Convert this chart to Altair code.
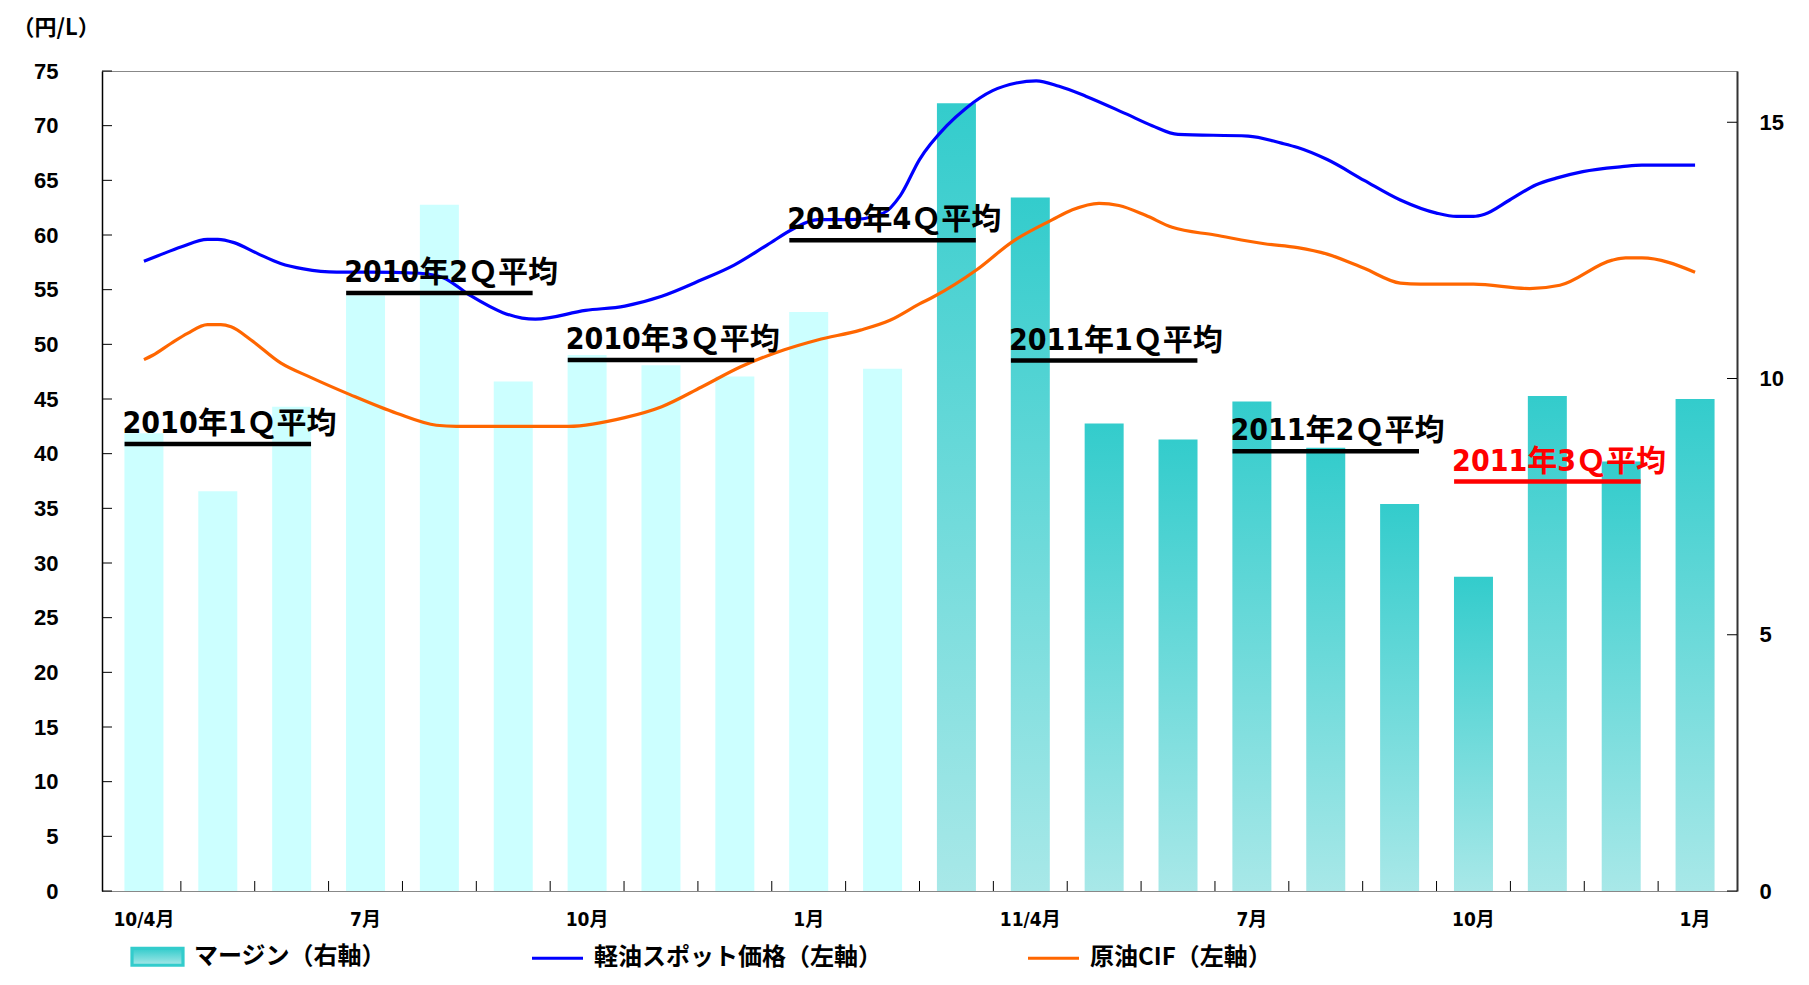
import altair as alt
import pandas as pd

# ---------------- data ----------------
months = ["2010/4", "2010/5", "2010/6", "2010/7", "2010/8", "2010/9", "2010/10", "2010/11",
          "2010/12", "2011/1", "2011/2", "2011/3", "2011/4", "2011/5", "2011/6", "2011/7",
          "2011/8", "2011/9", "2011/10", "2011/11", "2011/12", "2012/1"]
margin = [8.93, 7.8, 9.45, 11.62, 13.39, 9.94, 10.46, 10.26, 10.04, 11.3, 10.19,
          15.37, 13.53, 9.12, 8.81, 9.55, 8.65, 7.55, 6.13, 9.66, 8.38, 9.6]

label_pos = [0, 3, 6, 9, 12, 15, 18, 21]
label_text = ["10/4月", "7月", "10月", "1月", "11/4月", "7月", "10月", "1月"]

# line series: position in months since 2010/4, value (円/L)
blue_t = [0.0, 0.19, 0.5, 0.86, 1.0, 1.22, 1.54, 1.85, 2.16, 2.61, 3.06, 3.73, 4.05, 4.41,
          4.86, 5.12, 5.3, 5.98, 6.51, 7.01, 7.55, 7.99, 8.44, 8.8, 9.12, 9.56, 10.01, 10.24,
          10.5, 10.87, 11.13, 11.49, 11.81, 12.08, 12.39, 12.75, 13.29, 13.65, 14.0, 14.95,
          15.4, 15.62, 16.02, 16.52, 17.01, 17.5, 17.77, 18.0, 18.15, 18.49, 18.85, 19.12,
          19.48, 20.01, 20.28, 21.0]
blue_v = [57.6, 58.1, 58.9, 59.6, 59.6, 59.3, 58.3, 57.4, 56.9, 56.6, 56.6, 56.5, 56.1, 54.5,
          52.9, 52.4, 52.3, 53.1, 53.5, 54.4, 55.9, 57.25, 59.1, 60.6, 61.4, 61.4, 62.0, 63.6,
          66.9, 70.0, 71.6, 73.2, 73.9, 74.1, 73.6, 72.7, 71.1, 70.0, 69.2, 69.05,
          68.4, 68.0, 66.9, 65.0, 63.2, 62.0, 61.7, 61.7, 61.9, 63.2, 64.6, 65.2,
          65.8, 66.25, 66.4, 66.4]
orange_t = [0.0, 0.12, 0.37, 0.59, 0.86, 1.04, 1.18, 1.45, 1.85, 2.25, 2.79, 3.42, 3.96, 4.23,
            5.75, 6.51, 7.01, 7.55, 8.08, 8.67, 9.12, 9.7, 10.1, 10.5, 10.69, 11.27, 11.76,
            12.3, 12.57, 12.93, 13.2, 13.56, 13.92, 14.5, 15.17, 15.62, 16.02, 16.52, 17.01,
            17.28, 18.0, 18.76, 19.17, 19.88, 20.06, 20.28, 21.0]
orange_v = [48.6, 49.0, 50.1, 51.0, 51.8, 51.8, 51.6, 50.4, 48.3, 47.0, 45.4, 43.7, 42.6, 42.5,
            42.5, 43.3, 44.3, 46.1, 47.95, 49.5, 50.4, 51.3, 52.2, 53.7, 54.35, 56.8, 59.4,
            61.4, 62.3, 62.9, 62.7, 61.8, 60.7, 60.0, 59.2, 58.85, 58.25, 56.95, 55.6,
            55.5, 55.5, 55.1, 55.4, 57.7, 57.9, 57.9, 56.6]

q_labels = ["2010年1Ｑ平均", "2010年2Ｑ平均", "2010年3Ｑ平均", "2010年4Ｑ平均",
            "2011年1Ｑ平均", "2011年2Ｑ平均", "2011年3Ｑ平均"]
q_start = [0, 3, 6, 9, 12, 15, 18]
q_end = [2, 5, 8, 11, 14, 17, 20]
q_level = [8.72, 11.67, 10.36, 12.70, 10.35, 8.58, 7.99]
q_color = ["black", "black", "black", "black", "black", "black", "red"]

left_ticks = [0, 5, 10, 15, 20, 25, 30, 35, 40, 45, 50, 55, 60, 65, 70, 75]
right_ticks = [0, 5, 10, 15]

M = "マージン（右軸）"
B = "軽油スポット価格（左軸）"
O = "原油CIF（左軸）"

# ---------------- layout ----------------
W, H = 1635, 820
BAR = 39
N = len(months)
STEP = W / N
HALF = BAR / 2 / STEP

NARROW = "'Liberation Sans Narrow', 'DejaVu Sans Condensed', 'Noto Sans CJK JP', sans-serif"
SANS = "'Liberation Sans', Arial, sans-serif"
CJK = "'Noto Sans CJK JP', sans-serif"

bars = pd.DataFrame({"month": months, "idx": list(range(N)), "margin": margin})
lines = pd.concat([
    pd.DataFrame({"series": B, "t": blue_t, "v": blue_v}),
    pd.DataFrame({"series": O, "t": orange_t, "v": orange_v}),
])
quarters = pd.DataFrame({"label": q_labels, "x0": [s - HALF for s in q_start],
                         "x1": [e + HALF for e in q_end], "level": q_level, "col": q_color})
xlabels = pd.DataFrame({"p": label_pos, "text": label_text})
lt = pd.DataFrame({"v": left_ticks})
rt = pd.DataFrame({"v": right_ticks})
bt = pd.DataFrame({"b": [i + 0.5 for i in range(N - 1)]})

xscale = alt.Scale(domain=[-0.5, N - 0.5], nice=False, zero=False)
rscale = alt.Scale(domain=[0, 16], nice=False)
lscale = alt.Scale(domain=[0, 75], nice=False)

xaxis = alt.Axis(values=label_pos, labels=False, ticks=False, tickSize=0, grid=False,
                 domainColor="#333333", domainWidth=1.5, title=None)

grad = alt.Gradient(gradient="linear", x1=0, y1=0, x2=0, y2=1,
                    stops=[alt.GradientStop(color="#33CCCC", offset=0),
                           alt.GradientStop(color="#A8E8E8", offset=1)])

bars_light = alt.Chart(bars).transform_filter("datum.idx <= 10").mark_bar(
    size=BAR, color="#CCFFFF").encode(
    x=alt.X("idx:Q", scale=xscale, axis=xaxis),
    y=alt.Y("margin:Q", scale=rscale,
            axis=alt.Axis(orient="right", values=right_ticks, ticks=False, tickSize=0,
                          grid=False, domainColor="#333333", domainWidth=2,
                          labelFont=SANS, labelFontSize=22, labelFontWeight="bold",
                          labelColor="black", labelPadding=22, title=None)),
)

bars_grad = alt.Chart(bars).transform_filter("datum.idx >= 11").mark_bar(
    size=BAR, fill=grad).encode(
    x=alt.X("idx:Q", scale=xscale, axis=None),
    y=alt.Y("margin:Q", scale=rscale, axis=None),
)

sym_shape = f"datum.value === '{M}' ? 'M-1,-0.33H1V0.33H-1Z' : 'stroke'"
sym_fill = (f"datum.value === '{M}' ? {{gradient: 'linear', x1: 0, y1: 0, x2: 0, y2: 1, "
            f"stops: [{{offset: 0, color: '#33CCCC'}}, {{offset: 1, color: '#A8E8E8'}}]}} "
            f": 'transparent'")
sym_stroke = f"datum.value === '{M}' ? 'transparent' : (datum.value === '{B}' ? '#0000FF' : '#FF6600')"

legend = alt.Legend(orient="none", legendX=28, legendY=858, direction="horizontal", title=None,
                    labelFont=CJK, labelFontSize=24, labelFontWeight="bold", labelColor="black",
                    symbolType={"expr": sym_shape}, symbolSize=2601, symbolStrokeWidth=3.2,
                    symbolFillColor={"expr": sym_fill},
                    symbolStrokeColor={"expr": sym_stroke}, symbolOpacity=1,
                    labelOffset=9, columnPadding=139, padding=0, labelLimit=600)

line_layer = alt.Chart(lines).mark_line(interpolate="monotone", strokeWidth=3.2).encode(
    x=alt.X("t:Q", scale=xscale, axis=None),
    y=alt.Y("v:Q", scale=lscale,
            axis=alt.Axis(orient="left", values=left_ticks, ticks=False, tickSize=0, grid=False,
                          domainColor="black", domainWidth=1.5, labelFont=SANS,
                          labelFontSize=22, labelFontWeight="bold", labelColor="black",
                          labelPadding=44, title="（円/L）", titleAngle=0, titleAlign="left",
                          titleBaseline="middle", titleX=-90, titleY=-44, titleFont=CJK,
                          titleFontSize=22, titleFontWeight="bold", titleColor="black",
                          titleLimit=300)),
    color=alt.Color("series:N", scale=alt.Scale(domain=[M, B, O],
                                                range=["#33CCCC", "#0000FF", "#FF6600"]),
                    legend=legend),
)

underline = alt.Chart(quarters).mark_rule(strokeWidth=4.5).encode(
    x=alt.X("x0:Q", scale=xscale, axis=None),
    x2="x1:Q",
    y=alt.Y("level:Q", scale=rscale, axis=None),
    stroke=alt.Stroke("col:N", scale=None),
)

qtext = alt.Chart(quarters).mark_text(align="left", baseline="alphabetic", dx=-2, dy=-11,
                                      font=NARROW, fontSize=30, fontWeight="bold").encode(
    x=alt.X("x0:Q", scale=xscale, axis=None),
    y=alt.Y("level:Q", scale=rscale, axis=None),
    text="label:N",
    fill=alt.Fill("col:N", scale=None),
)

xlab = alt.Chart(xlabels).mark_text(baseline="middle", align="center", font=NARROW,
                                    fontSize=19, fontWeight="bold", color="black").encode(
    x=alt.X("p:Q", scale=xscale, axis=None),
    y=alt.value(H + 29),
    text="text:N",
)

lticks = alt.Chart(lt).mark_rule(color="black", strokeWidth=1).encode(
    y=alt.Y("v:Q", scale=lscale, axis=None), x=alt.value(0), x2=alt.value(10))
rticks = alt.Chart(rt).mark_rule(color="black", strokeWidth=1).encode(
    y=alt.Y("v:Q", scale=rscale, axis=None), x=alt.value(W - 10), x2=alt.value(W))
bticks = alt.Chart(bt).mark_rule(color="black", strokeWidth=1).encode(
    x=alt.X("b:Q", scale=xscale, axis=None), y=alt.value(H - 10), y2=alt.value(H))

chart = alt.layer(
    bars_light, bars_grad, line_layer, underline, qtext, xlab, lticks, rticks, bticks
).resolve_scale(y="independent").properties(
    width=W, height=H, autosize="none",
    padding={"left": 94, "top": 63, "right": 62, "bottom": 85},
    background="white",
).configure_view(stroke="#888888", strokeWidth=1)

chart.save("out.html", embed_options={"renderer": "svg", "actions": False})
